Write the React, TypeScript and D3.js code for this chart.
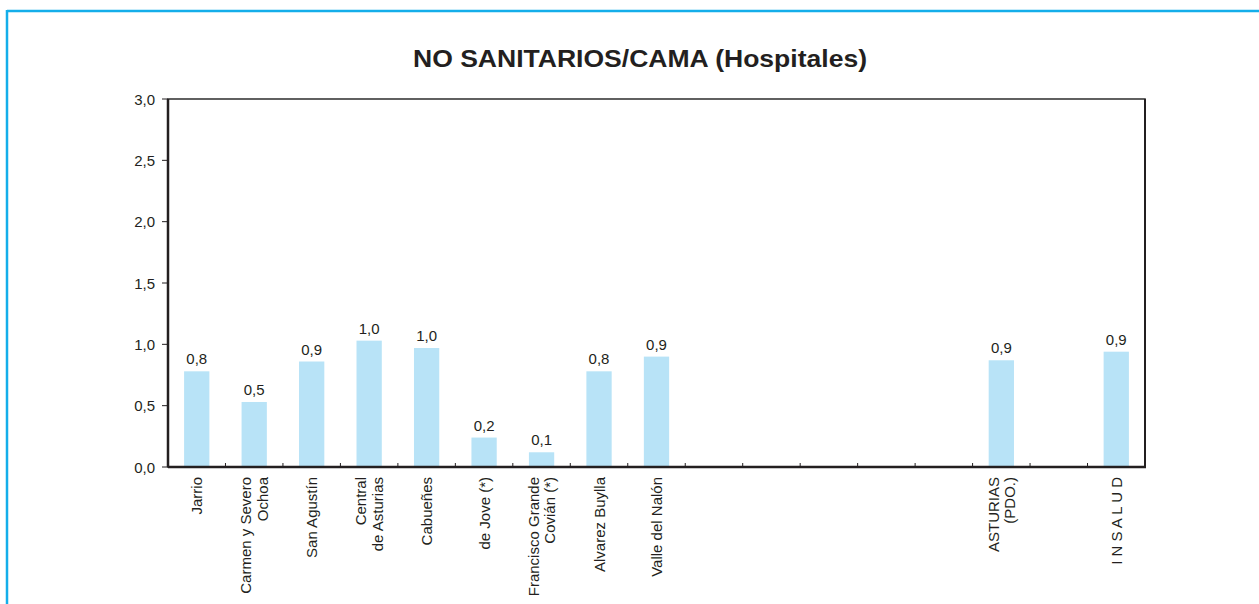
import { useRef, useEffect } from 'react';
import * as d3 from 'd3';

const TITLE = 'NO SANITARIOS/CAMA (Hospitales)';

// one entry per slot on the x axis; empty slots keep their place
const categories: string[][] = [
  ['Jarrio'],
  ['Carmen y Severo', 'Ochoa'],
  ['San Agustín'],
  ['Central', 'de Asturias'],
  ['Cabueñes'],
  ['de Jove (*)'],
  ['Francisco Grande', 'Covián (*)'],
  ['Alvarez Buylla'],
  ['Valle del Nalón'],
  [],
  [],
  [],
  [],
  [],
  ['ASTURIAS', '(PDO.)'],
  [],
  ['I N S A L U D'],
];

const values: (number | null)[] = [
  0.78, 0.53, 0.86, 1.03, 0.97, 0.24, 0.12, 0.78, 0.9,
  null, null, null, null, null, 0.87, null, 0.94,
];

const yTicks = [0, 0.5, 1, 1.5, 2, 2.5, 3];

const INK = '#231f20';
const BAR = '#b8e3f7';
const FRAME = '#14aeea';
const FONT = '"Liberation Sans", Arial, Helvetica, sans-serif';

const fmt = (v: number) => v.toFixed(1).replace('.', ',');

export default function App() {
  const svgRef = useRef<SVGSVGElement>(null);

  useEffect(() => {
    if (!svgRef.current) return;
    const svg = d3.select(svgRef.current);
    svg.selectAll('*').remove();

    const margin = { top: 99, left: 168, right: 1145, bottom: 467 };

    // page frame
    svg.append('line').attr('x1', 7).attr('x2', 1259).attr('y1', 11).attr('y2', 11)
      .attr('stroke', FRAME).attr('stroke-width', 2.5);
    svg.append('line').attr('x1', 7).attr('x2', 7).attr('y1', 10).attr('y2', 604)
      .attr('stroke', FRAME).attr('stroke-width', 2.5);

    svg.append('text')
      .attr('x', 640).attr('y', 67)
      .attr('text-anchor', 'middle')
      .attr('font-family', FONT).attr('font-weight', 'bold').attr('font-size', 24)
      .attr('textLength', 454).attr('lengthAdjust', 'spacingAndGlyphs')
      .attr('fill', INK)
      .text(TITLE);

    const x = d3.scaleBand<number>()
      .domain(categories.map((_, i) => i))
      .range([margin.left, margin.right])
      .paddingInner(0.56)
      .paddingOuter(0.28);
    const step = x.step();
    const x0 = margin.left;

    const y = d3.scaleLinear().domain([0, 3]).range([margin.bottom, margin.top]);

    // bars
    values.forEach((v, i) => {
      if (v == null) return;
      svg.append('rect')
        .attr('x', x(i)!).attr('width', x.bandwidth())
        .attr('y', y(v)).attr('height', y(0) - y(v))
        .attr('fill', BAR);
      svg.append('text')
        .attr('x', x(i)! + x.bandwidth() / 2).attr('y', y(v) - 7)
        .attr('text-anchor', 'middle')
        .attr('font-family', FONT).attr('font-size', 15).attr('fill', INK)
        .text(fmt(v));
    });

    // plot frame: thin top/right, heavier axes
    svg.append('rect')
      .attr('x', margin.left).attr('y', margin.top)
      .attr('width', margin.right - margin.left).attr('height', margin.bottom - margin.top)
      .attr('fill', 'none').attr('stroke', '#3a3a3a').attr('stroke-width', 1.6);
    svg.append('line').attr('x1', margin.right).attr('x2', margin.right)
      .attr('y1', margin.top).attr('y2', margin.bottom)
      .attr('stroke', INK).attr('stroke-width', 2);
    svg.append('line').attr('x1', margin.left).attr('x2', margin.right + 1)
      .attr('y1', margin.bottom).attr('y2', margin.bottom)
      .attr('stroke', INK).attr('stroke-width', 2.5);
    svg.append('line').attr('x1', margin.left).attr('x2', margin.left)
      .attr('y1', margin.top).attr('y2', margin.bottom)
      .attr('stroke', INK).attr('stroke-width', 2.5);

    // y axis
    const yAxis = svg.append('g');
    yTicks.forEach((t) => {
      yAxis.append('line').attr('x1', margin.left - 6).attr('x2', margin.left)
        .attr('y1', y(t)).attr('y2', y(t)).attr('stroke', INK).attr('stroke-width', 1);
      yAxis.append('text')
        .attr('x', margin.left - 13).attr('y', y(t))
        .attr('text-anchor', 'end').attr('dominant-baseline', 'central')
        .attr('font-family', FONT).attr('font-size', 15).attr('fill', INK)
        .text(fmt(t));
    });

    // x ticks between slots, pointing up
    d3.range(1, categories.length).forEach((i) => {
      svg.append('line')
        .attr('x1', x0 + i * step).attr('x2', x0 + i * step)
        .attr('y1', margin.bottom).attr('y2', margin.bottom - 4)
        .attr('stroke', INK).attr('stroke-width', 1);
    });

    // category labels, rotated
    categories.forEach((lines, i) => {
      if (!lines.length) return;
      const g = svg.append('g')
        .attr('transform', `translate(${x(i)! + x.bandwidth() / 2},${margin.bottom + 10}) rotate(-90)`);
      lines.forEach((l, j) => {
        g.append('text')
          .attr('x', 0).attr('y', (j - (lines.length - 1) / 2) * 16.5)
          .attr('text-anchor', 'end').attr('dominant-baseline', 'central')
          .attr('font-family', FONT).attr('font-size', 15).attr('fill', INK)
          .text(l);
      });
    });
  }, []);

  return (
    <>
      <style>{'body{margin:0}'}</style>
      <svg ref={svgRef} width={1259} height={604} style={{ display: 'block', background: '#fff' }} />
    </>
  );
}
